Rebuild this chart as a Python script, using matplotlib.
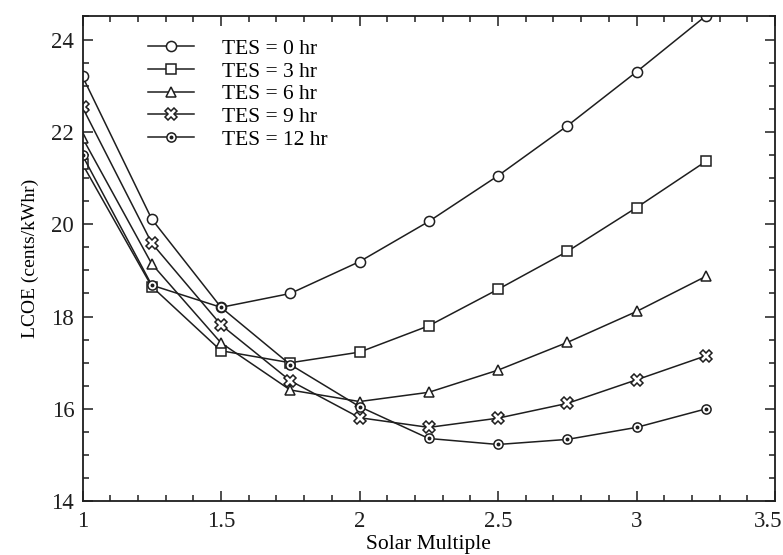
import numpy as np
import matplotlib
matplotlib.use('Agg')
from matplotlib import pyplot as plt
from matplotlib.legend_handler import HandlerTuple
from matplotlib.ticker import MultipleLocator
from matplotlib.transforms import ScaledTranslation

plt.rcParams['font.family'] = ['Liberation Serif', 'DejaVu Serif']

# solar multiple
sm = [1.0, 1.25, 1.5, 1.75, 2.0, 2.25, 2.5, 2.75, 3.0, 3.25]

# LCOE (cents/kWhr) for each storage size
tes0 = [23.20, 20.11, 18.20, 18.50, 19.19, 20.06, 21.05, 22.13, 23.30, 24.51]
tes3 = [21.30, 18.65, 17.26, 17.00, 17.23, 17.80, 18.59, 19.41, 20.36, 21.36]
tes6 = [21.87, 19.14, 17.43, 16.41, 16.16, 16.36, 16.84, 17.44, 18.11, 18.87]
tes9 = [22.53, 19.59, 17.82, 16.61, 15.81, 15.60, 15.80, 16.12, 16.63, 17.15]
tes12 = [21.49, 18.68, 18.20, 16.96, 16.05, 15.36, 15.23, 15.34, 15.60, 16.00]

labels = ['TES = 0 hr', 'TES = 3 hr', 'TES = 6 hr', 'TES = 9 hr', 'TES = 12 hr']
xticks = [1, 1.5, 2, 2.5, 3, 3.5]
xticklabels = ['1', '1.5', '2', '2.5', '3', '3.5']

fig = plt.figure(figsize=(7.83, 5.55), dpi=100)
ax = fig.add_axes([0.1054, 0.0968, 0.8844, 0.8744])

kw = dict(color='#1e1e1e', lw=1.1, mfc='white', mec='#1e1e1e', mew=1.1)
l0, = ax.plot(sm, tes0, marker='o', ms=7.3, **kw)
l3, = ax.plot(sm, tes3, marker='s', ms=6.6, **kw)
l6, = ax.plot(sm, tes6, marker='^', ms=7, **kw)
l9, = ax.plot(sm, tes9, marker='X', ms=8, **kw)
l12, = ax.plot(sm, tes12, marker='o', ms=6.6, **kw)
d12, = ax.plot(sm, tes12, ls='none', marker='o', ms=1.8, color='#1e1e1e')

ax.set_xlim(1, 3.5)
ax.set_ylim(14, 24.51)
ax.set_xticks(xticks)
ax.set_xticklabels(xticklabels)
ax.xaxis.set_minor_locator(MultipleLocator(0.1))
ax.yaxis.set_major_locator(MultipleLocator(2))
ax.yaxis.set_minor_locator(MultipleLocator(0.5))
ax.tick_params(which='both', direction='in', top=True, right=True,
               labelsize=16.5, width=1.1, colors='#1e1e1e')
ax.tick_params(axis='x', pad=7)
ax.tick_params(axis='y', pad=6)
ax.tick_params(which='major', length=7)
ax.tick_params(which='minor', length=4)
for s in ax.spines.values():
    s.set_linewidth(1.3)
    s.set_color('#1e1e1e')

ax.set_xlabel('Solar Multiple', fontsize=15.5, labelpad=2)
ax.set_ylabel('LCOE (cents/kWhr)', fontsize=14, labelpad=9)

ax.legend([l0, l3, l6, l9, (l12, d12)], labels,
          handler_map={tuple: HandlerTuple(ndivide=1)},
          loc='upper left', bbox_to_anchor=(0.189, 0.93), bbox_transform=fig.transFigure,
          frameon=False, fontsize=15.5, handlelength=2.15, handletextpad=1.3,
          labelspacing=0.12, borderaxespad=0, borderpad=0)

# last x label sits flush with the right edge, as in the original
last = ax.xaxis.get_major_ticks()[-1].label1
last.set_horizontalalignment('right')
last.set_transform(last.get_transform() + ScaledTranslation(7 / 100, 0, fig.dpi_scale_trans))

fig.savefig('out.png', dpi=100)
